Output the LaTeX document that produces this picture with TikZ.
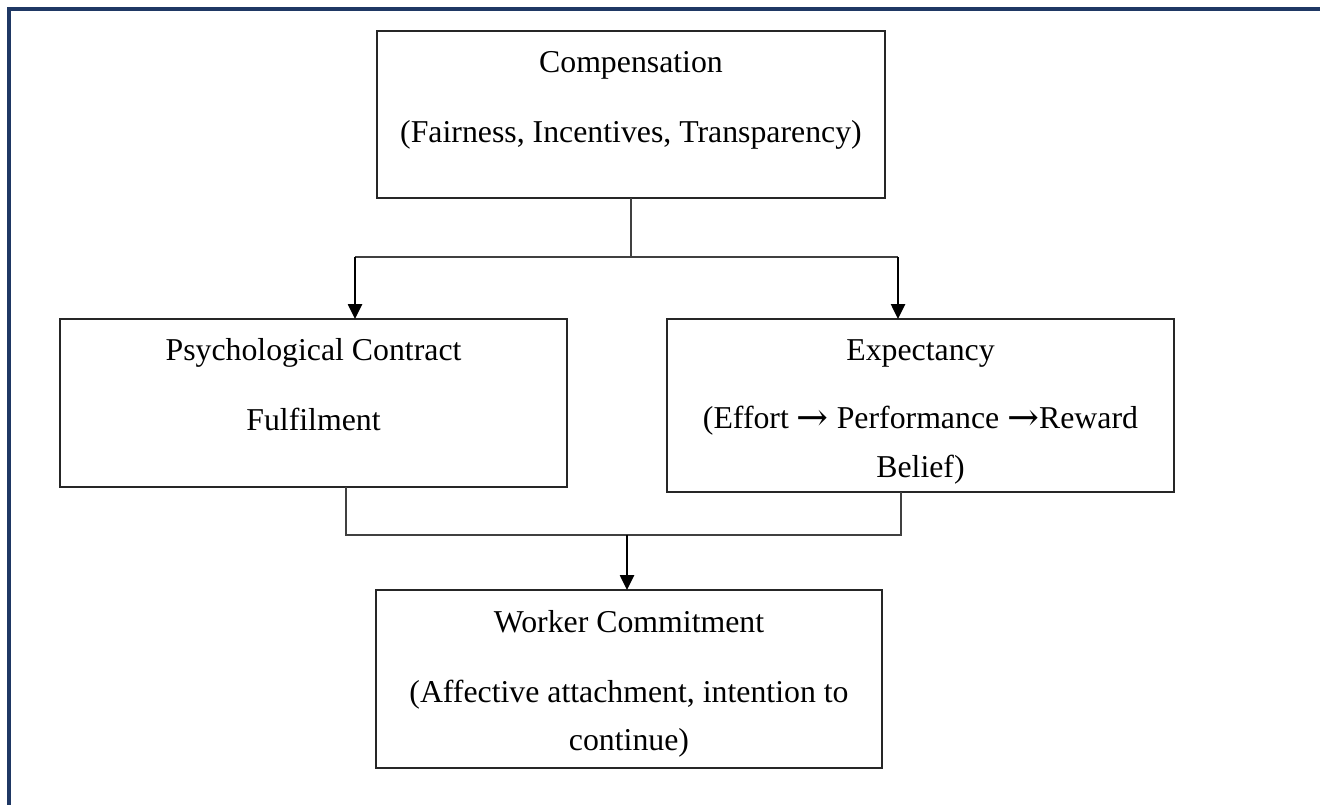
\documentclass[tikz,border=0pt]{standalone}
\usepackage{fontspec}
\setmainfont{Liberation Serif}
\newfontfamily\arrowfont{DejaVu Serif}[Scale=1.2]
\newcommand{\rarr}{\raisebox{-2.5pt}{\arrowfont →}}
\usetikzlibrary{arrows.meta}
\definecolor{navy}{RGB}{31,56,100}
\definecolor{linegray}{RGB}{64,64,64}
\tikzset{
  x=1pt, y=-1pt,
  boxstyle/.style={draw=black!85, line width=1.6pt},
  txt/.style={anchor=base, inner sep=0pt, font=\fontsize{31.8pt}{38pt}\selectfont, text=black},
  conn/.style={draw=linegray, line width=1.4pt},
  arr/.style={draw=black, line width=2.6pt, -{Triangle[width=14pt,length=15pt]}},
}
\begin{document}
\begin{tikzpicture}
\useasboundingbox (0,0) rectangle (1320,805);
\fill[white] (0,0) rectangle (1320,805);
% frame
\draw[navy, line width=3.2pt] (9,805) -- (9,9) -- (1320,9);

% boxes
\draw[boxstyle] (377,31) rectangle (885,198);
\draw[boxstyle] (60,319) rectangle (567,487);
\draw[boxstyle] (667,319) rectangle (1174,492);
\draw[boxstyle] (376,590) rectangle (882,768);

% texts
\node[txt] (t1) at (631,73) {Compensation};
\node[txt] (t2) at (631,143) {(Fairness, Incentives, Transparency)};
\node[txt] (t3) at (313.5,360) {Psychological Contract};
\node[txt] (t4) at (313.5,430) {Fulfilment};
\node[txt] (t5) at (920.5,360) {Expectancy};
\node[txt] (t6) at (920.5,428) {(Effort \rarr{} Performance \rarr{}Reward};
\node[txt] (t7) at (920.5,477) {Belief)};
\node[txt] (t8) at (629,632) {Worker Commitment};
\node[txt] (t9) at (629,702) {(Affective attachment, intention to};
\node[txt] (t10) at (629,750) {continue)};

% connectors
\coordinate (c0) at (631,198);
\coordinate (c1) at (631,257);
\coordinate (cl) at (355,257);
\coordinate (cr) at (898,257);
\coordinate (pl) at (355,319);
\coordinate (pr) at (898,319);
\draw[conn] (c0) -- (c1);
\draw[conn] (cl) -- (cr);
\draw[arr] (cl) -- (pl);
\draw[arr] (cr) -- (pr);

\coordinate (d0) at (346,487);
\coordinate (d1) at (346,535);
\coordinate (e0) at (901,492);
\coordinate (e1) at (901,535);
\coordinate (m0) at (627,535);
\coordinate (m1) at (627,590);
\draw[conn] (d0) -- (d1) -- (e1) -- (e0);
\draw[arr] (m0) -- (m1);
\end{tikzpicture}
\end{document}
